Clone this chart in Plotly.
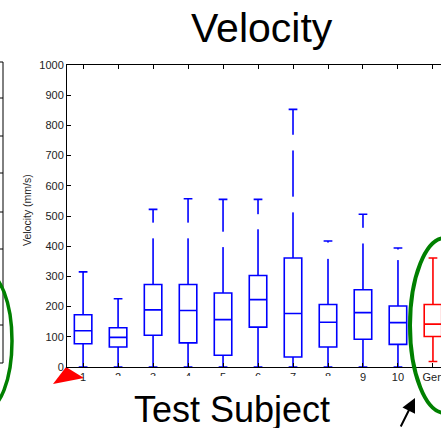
import plotly.graph_objects as go

# ---- data ----
labels = ["1", "2", "3", "4", "5", "6", "7", "8", "9", "10", "Gen"]
lower_whisker = [0, 0, 0, 0, 0, 0, 0, 0, 0, 0, 18]
q1 = [77, 66, 105, 80, 39, 132, 33, 66, 92, 75, 101]
median = [120, 98, 189, 187, 157, 223, 177, 148, 180, 147, 142]
q3 = [173, 130, 273, 273, 245, 303, 361, 207, 256, 202, 207]
upper_whisker = [315, 226, 522, 557, 555, 555, 853, 417, 506, 394, 361]
# breaks in the dashed upper whiskers: (box number, from, to)
whisker_breaks = [(3, 426, 478), (4, 426, 478), (5, 397, 448), (6, 456, 506),
                  (7, 717, 769), (7, 512, 564), (8, 358, 412), (9, 409, 461),
                  (10, 354, 389)]
colors = ["#0000ff"] * 10 + ["#ff0000"]
yticks = list(range(0, 1001, 100))

W, H = 441, 428
L, T, B, R = 67, 65, 61, 0
PW, PH = W - L - R, H - T - B

def px(x):
    return (x - L) / PW

def py(y):
    return (H - B - y) / PH

FONT = "Arial, Liberation Sans, Helvetica, sans-serif"

fig = go.Figure()
for i, lab in enumerate(labels):
    fig.add_trace(go.Box(
        x=[i + 1], q1=[q1[i]], median=[median[i]], q3=[q3[i]],
        lowerfence=[lower_whisker[i]], upperfence=[upper_whisker[i]],
        width=0.5, whiskerwidth=0.5,
        line=dict(color=colors[i], width=1.6),
        fillcolor="rgba(0,0,0,0)", boxpoints=False, showlegend=False,
        hoverinfo="skip",
    ))

gx, gy = [], []
for k, a, b in whisker_breaks:
    gx += [k, k, None]
    gy += [a, b, None]
fig.add_trace(go.Scatter(x=gx, y=gy, mode="lines",
                         line=dict(color="white", width=4),
                         showlegend=False, hoverinfo="skip"))

shapes = []
# white patch hiding lower parts of the tick labels (as in the cropped source)
shapes.append(dict(type="rect", xref="paper", yref="paper",
                   x0=px(98), x1=px(347), y0=py(430), y1=py(376),
                   fillcolor="white", line=dict(width=0), layer="above"))
# remnant of neighbouring panel on the left
shapes.append(dict(type="line", xref="paper", yref="paper",
                   x0=px(3), x1=px(3), y0=py(62), y1=py(363),
                   line=dict(color="black", width=1)))
for yy in [62, 363]:
    shapes.append(dict(type="line", xref="paper", yref="paper",
                       x0=px(-2), x1=px(3), y0=py(yy), y1=py(yy),
                       line=dict(color="black", width=1)))
for yy in [98, 136, 173, 212, 249, 287, 325]:
    shapes.append(dict(type="line", xref="paper", yref="paper",
                       x0=px(0), x1=px(3), y0=py(yy), y1=py(yy),
                       line=dict(color="black", width=1)))
# green ellipses
shapes.append(dict(type="circle", xref="paper", yref="paper",
                   x0=px(-42), x1=px(12), y0=py(410), y1=py(272),
                   line=dict(color="#008000", width=3.5), layer="above"))
shapes.append(dict(type="circle", xref="paper", yref="paper",
                   x0=px(410), x1=px(480), y0=py(413), y1=py(238),
                   line=dict(color="#008000", width=4), layer="above"))
# red arrowhead bottom-left
pts = [(53, 384), (66, 367), (84, 378)]
path = "M " + " L ".join(f"{px(a)},{py(b)}" for a, b in pts) + " Z"
shapes.append(dict(type="path", xref="paper", yref="paper", path=path,
                   fillcolor="#ff0000", line=dict(width=0), layer="below"))

annotations = [
    dict(text="Velocity", x=px(262), y=py(28), xref="paper", yref="paper",
         xanchor="center", yanchor="middle", showarrow=False,
         font=dict(family=FONT, size=41, color="black")),
    dict(text="Test Subject", x=px(232), y=py(409), xref="paper", yref="paper",
         xanchor="center", yanchor="middle", showarrow=False,
         font=dict(family=FONT, size=36, color="black")),
    dict(text="Velocity (mm/s)", x=px(27), y=py(210), xref="paper", yref="paper",
         xanchor="center", yanchor="middle", showarrow=False, textangle=-90,
         font=dict(family=FONT, size=10.5, color="#262626")),
    dict(text="", x=px(415), y=py(398), xref="paper", yref="paper",
         showarrow=True, ax=-15, ay=34, arrowhead=2, arrowsize=1.4,
         arrowwidth=2, arrowcolor="black"),
]

fig.update_layout(
    width=W, height=H,
    margin=dict(l=L, r=R, t=T, b=B, pad=0),
    paper_bgcolor="white", plot_bgcolor="white",
    shapes=shapes, annotations=annotations,
    font=dict(family=FONT, size=11, color="#222222"),
    xaxis=dict(
        range=[0.54, 11.23], tickmode="array",
        tickvals=list(range(1, len(labels) + 1)), ticktext=labels,
        ticks="inside", ticklen=4, tickcolor="black",
        showline=True, linecolor="black", linewidth=1, mirror="ticks",
        showgrid=False, zeroline=False, automargin=False,
        ticklabeloverflow="allow",
        tickfont=dict(family=FONT, size=11, color="#222222"),
    ),
    yaxis=dict(
        range=[0, 1000], tickmode="array", tickvals=yticks,
        ticks="inside", ticklen=4, tickcolor="black",
        showline=True, linecolor="black", linewidth=1, mirror=False,
        showgrid=False, zeroline=False, automargin=False,
        ticklabeloverflow="allow",
        tickfont=dict(family=FONT, size=11, color="#222222"),
    ),
)

fig.write_html("out.html")
